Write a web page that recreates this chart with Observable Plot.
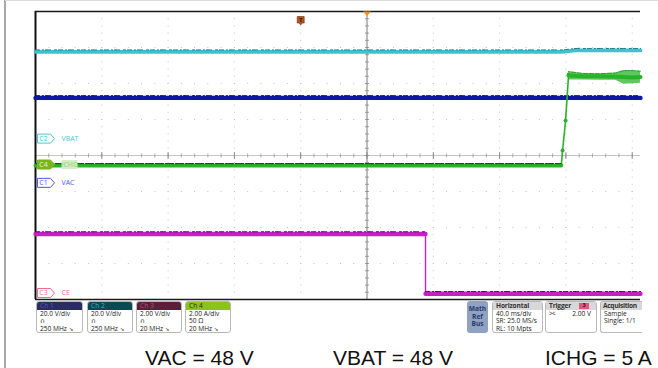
<!DOCTYPE html>
<html><head><meta charset="utf-8">
<script src="https://cdn.jsdelivr.net/npm/d3@7"></script>
<script src="https://cdn.jsdelivr.net/npm/@observablehq/plot@0.6"></script>
<style>
body{margin:0;background:#fff;}
#wrap{position:relative;width:658px;height:368px;overflow:hidden;font-family:"Liberation Sans",Arial,sans-serif;}
#wrap svg{position:absolute;left:0;top:0;}
.edge{position:absolute;background:#a8a8a8;}
.rb{position:absolute;top:301px;height:32px;box-sizing:border-box;border:1px solid #b9b9b9;border-radius:3px;background:#fff;
  font-family:"Open Sans","DejaVu Sans",sans-serif;font-size:6.6px;line-height:7.6px;color:#222;overflow:hidden;white-space:nowrap;}
.rb .hd{height:7.5px;line-height:7.5px;padding-left:3px;position:relative;}
.rb .bd{padding:0 0 0 3px;}
.gh{background:#d8d8d8;font-weight:bold;color:#333;letter-spacing:-0.15px;}
.cap{position:absolute;top:347px;font-family:"Liberation Sans",Arial,sans-serif;font-size:21px;line-height:21px;color:#111;white-space:nowrap;}
</style></head><body><div id="wrap"></div>
<script>
// ---- scope screen data (time in ms, level in screen divisions) ----
const timeDomain = [-200, 165];
const levelDomain = [-4, 4];
const msPerDiv = 40;

const vacT  = [-200, 165];
const vacV  = [1.60, 1.60];

const vbatT = [-200, 118, 125.5, 165];
const vbatV = [2.88, 2.88, 2.92, 2.92];

const ceT   = [-200, 35.3, 35.3, 165];
const ceV   = [-2.18, -2.18, -3.84, -3.84];

const ichgT = [-200, 117.2, 118.0, 119.8, 121.6];
const ichgV = [-0.28, -0.28, 0.14, 0.97, 2.24];
const ichgHighT  = [121.6, 130, 140, 150, 155, 160, 165];
const ichgHighV  = [2.22, 2.20, 2.20, 2.19, 2.18, 2.17, 2.18];
const ichgHighHi = [2.33, 2.28, 2.27, 2.29, 2.36, 2.36, 2.34];
const ichgHighLo = [2.10, 2.10, 2.09, 2.09, 1.98, 1.99, 2.01];

const tagNames  = ["C2", "C4", "C1", "C3"];
const tagLabels = ["VBAT", "ICHG", "VAC", "CE"];
const tagLevels = [0.47, -0.25, -0.76, -3.82];

const triggerTime = 0;
const trigMarkTime = -40;
const trigMarkLevel = 3.75;

const chHeads = ["Ch 1", "Ch 2", "Ch 3", "Ch 4"];
const chScale = ["20.0 V/div", "20.0 V/div", "2.00 V/div", "2.00 A/div"];
const chCoupling = ["\u2229", "\u2229", "\u2229", "50 \u03A9"];
const chBandwidth = ["250 MHz", "250 MHz", "20 MHz", "20 MHz"];
const horizLines = ["40.0 ms/div", "SR: 25.0 MS/s", "RL: 10 Mpts"];
const acqLines = ["Sample", "Single: 1/1"];
const trigLevel = "2.00 V";
const trigSource = "3";
const captions = ["VAC = 48 V", "VBAT = 48 V", "ICHG = 5 A"];

// ---- styles ----
const col = {VBAT:"#3cc3cd", VAC:"#0d18a8", CE:"#c81ec8", ICHG:"#28b428"};
const speck = {VBAT:"#1f7a82", VAC:"#03074e", CE:"#4a0a4a", ICHG:"#0b540b"};
const tagCol = {C2:"#45c6d8", C4:"#78b41c", C1:"#5454e6", C3:"#f06a92"};

const idx = n => d3.range(n);
const tagSym = {draw(c){c.moveTo(-9,-4.5);c.lineTo(4,-4.5);c.lineTo(8,0);c.lineTo(4,4.5);c.lineTo(-9,4.5);c.closePath();}};
const boxSym = {draw(c){c.rect(-8,-4.5,16,9);}};
const vTick = {draw(c){c.moveTo(0,-2);c.lineTo(0,2);}};
const vTickBig = {draw(c){c.moveTo(0,-3.5);c.lineTo(0,3.5);}};
const hTick = {draw(c){c.moveTo(-2,0);c.lineTo(2,0);}};
const downTri = {draw(c){c.moveTo(-3.8,0);c.lineTo(3.8,0);c.lineTo(0,4.8);c.closePath();}};
const tMark = {draw(c){c.moveTo(-3.5,-4);c.lineTo(3.5,-4);c.lineTo(3.5,2.5);c.lineTo(1.5,2.5);c.lineTo(0,4.5);c.lineTo(-1.5,2.5);c.lineTo(-3.5,2.5);c.closePath();}};
const speckDash = "1 1 2 3 1 2 3 1 1 4 2 2";

const divTimes = d3.range(-160, 165, msPerDiv);
const divLevels = d3.range(-3, 4, 1);
const minorTimes = d3.range(-200, 165, msPerDiv / 5);
const minorLevels = d3.range(-20, 21).map(k => k / 5);

function trace(T, V, name, w, tz) {
  return [
    Plot.line(idx(T.length), {x: T, y: V, stroke: col[name], strokeWidth: w}),
    Plot.line(idx(T.length), {x: T, y: V, z: tz, stroke: speck[name], strokeWidth: 1, dy: -w/2, strokeDasharray: speckDash})
  ];
}

const tags = tagNames.map((n, i) => ({name: n, label: tagLabels[i], level: tagLevels[i]}));
const tagMarks = tags.flatMap(t => {
  const filled = t.name === "C4";
  const m = [
    Plot.dot([t], {x: () => timeDomain[0], y: "level", dx: 11, symbol: tagSym, r: 3,
      fill: filled ? tagCol[t.name] : "#fff", stroke: tagCol[t.name], strokeWidth: 1}),
    Plot.text([t], {x: () => timeDomain[0], y: "level", dx: 8, text: "name", fontSize: 7,
      fill: filled ? "#eaf6d6" : tagCol[t.name], fontFamily: "Open Sans"})
  ];
  if (filled) {
    m.push(Plot.dot([t], {x: () => timeDomain[0], y: "level", dx: 34, symbol: boxSym, r: 3, fill: "#d2efc4", stroke: "none"}));
  }
  m.push(Plot.text([t], {x: () => timeDomain[0], y: "level", dx: 26, text: "label", textAnchor: "start", fontSize: 7,
    fill: filled ? "#98cc7c" : tagCol[t.name], fontFamily: "Open Sans"}));
  return m;
});

const plot = Plot.plot({
  width: 658, height: 302,
  marginLeft: 35, marginRight: 18, marginTop: 11, marginBottom: 3,
  x: {domain: timeDomain, axis: null},
  y: {domain: levelDomain, axis: null},
  style: {background: "transparent", overflow: "visible"},
  marks: [
    Plot.ruleX(divTimes.filter(t => t !== triggerTime), {stroke: "#c2c2c2", strokeDasharray: "1 6.2"}),
    Plot.ruleY(divLevels.filter(v => v !== 0), {stroke: "#c2c2c2", strokeDasharray: "1 12.26"}),
    Plot.ruleY([0], {stroke: "#c4c4c4"}),
    Plot.ruleX([triggerTime], {stroke: "#7a7a7a"}),
    Plot.dot(minorTimes, {x: d => d, y: () => 0, symbol: vTick, stroke: "#999", strokeWidth: 0.8}),
    Plot.dot(divTimes, {x: d => d, y: () => 0, symbol: vTickBig, stroke: "#888", strokeWidth: 0.9}),
    Plot.dot(minorLevels, {x: () => triggerTime, y: d => d, symbol: hTick, stroke: "#888", strokeWidth: 0.8}),
    Plot.ruleY([levelDomain[1]], {stroke: "#1a1a1a", strokeWidth: 1.6}),
    Plot.ruleY([levelDomain[0]], {stroke: "#1a1a1a", strokeWidth: 1.6}),
    Plot.ruleX([timeDomain[0]], {stroke: "#111", strokeWidth: 2}),
    ...trace(vbatT, vbatV, "VBAT", 3.8),
    ...trace(vacT, vacV, "VAC", 4.4),
    Plot.line(idx(ceT.length), {x: ceT, y: ceV, stroke: col.CE, strokeWidth: 1.4}),
    Plot.line(idx(ceT.length), {x: ceT, y: ceV, z: ceV, stroke: col.CE, strokeWidth: 4.4}),
    Plot.line(idx(ceT.length), {x: ceT, y: ceV, z: ceV, stroke: speck.CE, strokeWidth: 1, dy: -2.2, strokeDasharray: speckDash}),
    Plot.areaY(idx(ichgHighT.length), {x: ichgHighT, y1: ichgHighLo, y2: ichgHighHi, fill: col.ICHG, fillOpacity: 0.75}),
    Plot.line(idx(ichgHighT.length), {x: ichgHighT, y: ichgHighV, stroke: col.ICHG, strokeWidth: 4}),
    Plot.line(idx(ichgHighT.length), {x: ichgHighT, y: ichgHighHi, stroke: "#1f8f1f", strokeWidth: 0.8, strokeDasharray: "1 2 2 1"}),
    Plot.line(idx(ichgT.length), {x: ichgT, y: ichgV, stroke: col.ICHG, strokeWidth: 1.6}),
    Plot.line(idx(ichgT.length), {x: ichgT, y: ichgV, z: ichgV, stroke: col.ICHG, strokeWidth: 4}),
    Plot.line(idx(ichgT.length), {x: ichgT, y: ichgV, z: ichgV, stroke: speck.ICHG, strokeWidth: 1.1, dy: -2, strokeDasharray: "2 1 1 1 3 2"}),
    ...tagMarks,
    Plot.dot([triggerTime], {x: d => d, y: () => levelDomain[1], symbol: downTri, r: 3, fill: "#f39224", stroke: "none"}),
    Plot.dot([trigMarkTime], {x: d => d, y: () => trigMarkLevel, symbol: tMark, r: 3, fill: "#b3581a", stroke: "#6a2e00", strokeWidth: 0.6}),
    Plot.text([trigMarkTime], {x: d => d, y: () => trigMarkLevel, dy: -0.8, text: () => "T", fontSize: 6, fontWeight: "bold", fill: "#3a1800"})
  ]
});

const wrap = document.getElementById("wrap");
wrap.appendChild(plot);

function el(tag, cls, css, html) {
  const e = document.createElement(tag);
  if (cls) e.className = cls;
  if (css) e.style.cssText = css;
  if (html != null) e.innerHTML = html;
  return e;
}
wrap.appendChild(el("div", "edge", "left:4px;top:0;width:2px;height:368px;"));
wrap.appendChild(el("div", "edge", "left:5px;top:0;width:653px;height:1px;background:#dcdcdc;"));

const chLeft = [36, 87, 136, 185];
const chWidth = [47, 46, 46, 46];
const chHeadBg = ["#2b2d5e", "#0d4955", "#5a2038", "#8cc21e"];
const chHeadFg = ["#5558c4", "#2fb4c6", "#c24a78", "#1e3300"];
chHeads.forEach((h, i) => {
  const b = el("div", "rb", `left:${chLeft[i]}px;width:${chWidth[i]}px;`);
  b.appendChild(el("div", "hd", `background:${chHeadBg[i]};color:${chHeadFg[i]};`, h));
  b.appendChild(el("div", "bd", "", `${chScale[i]}<br>${chCoupling[i]}<br>${chBandwidth[i]} <span style="font-size:5.5px">\u2198</span>`));
  wrap.appendChild(b);
});

const math = el("div", "rb", "left:467px;width:21px;background:#8fa2c2;border:none;text-align:center;color:#263a6a;font-weight:bold;line-height:7.6px;padding-top:4px;", "Math<br>Ref<br>Bus");
wrap.appendChild(math);

const hz = el("div", "rb", "left:492px;width:51px;");
hz.appendChild(el("div", "hd gh", "", "Horizontal"));
hz.appendChild(el("div", "bd", "", horizLines.join("<br>")));
wrap.appendChild(hz);

const tr = el("div", "rb", "left:545px;width:52px;");
const trh = el("div", "hd gh", "", "Trigger");
trh.appendChild(el("span", "", "position:absolute;left:33px;top:1px;width:10px;height:5.5px;line-height:5.5px;background:#e2557f;color:#4a0018;text-align:center;font-size:5.5px;", trigSource));
tr.appendChild(trh);
tr.appendChild(el("div", "bd", "display:flex;justify-content:space-between;padding-right:5px;", `<span style="letter-spacing:-1px">&gt;&lt;</span><span>${trigLevel}</span>`));
wrap.appendChild(tr);

const acq = el("div", "rb", "left:600px;width:42px;border-right:none;border-radius:3px 0 0 3px;");
acq.appendChild(el("div", "hd gh", "padding-left:2px;letter-spacing:-0.3px;", "Acquisition"));
acq.appendChild(el("div", "bd", "", acqLines.join("<br>")));
wrap.appendChild(acq);

const capLeft = [145, 333, 545];
captions.forEach((c, i) => wrap.appendChild(el("div", "cap", `left:${capLeft[i]}px;`, c)));
</script>
</body></html>
